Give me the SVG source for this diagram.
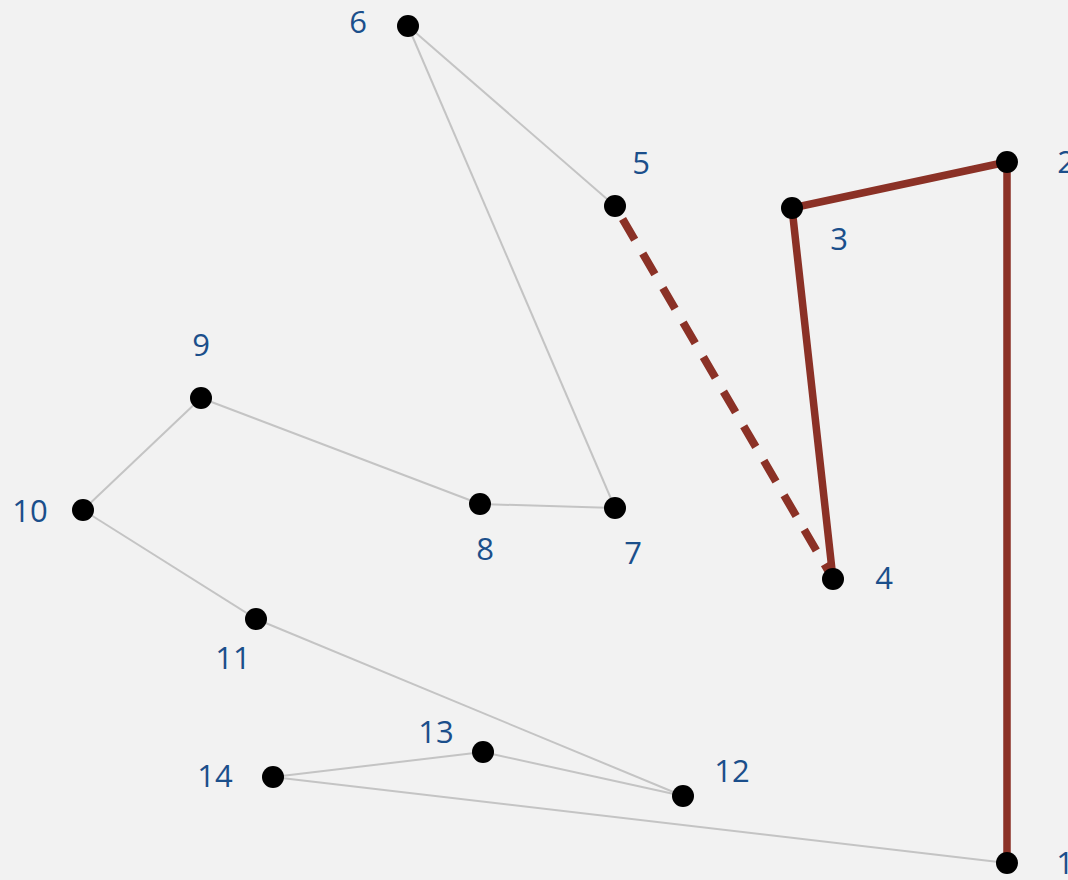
<svg xmlns="http://www.w3.org/2000/svg" width="1068" height="880" viewBox="0 0 1068 880">
<style>
.thin{stroke:#c4c4c4;stroke-width:2;fill:none}
.thick{stroke:#8b3126;stroke-width:7.5;fill:none;stroke-linecap:butt}
.dash{stroke:#8b3126;stroke-width:8;fill:none;stroke-dasharray:24 16;stroke-dashoffset:-15}
.dot{fill:#000}
.lbl{font-family:"Open Sans","Noto Sans",sans-serif;font-size:31px;fill:#1b4f8b;text-anchor:middle;dominant-baseline:central}
</style>
<rect width="1068" height="880" fill="#f2f2f2"/>
<g id="connectors">
<line class="thin" x1="1007" y1="863" x2="273" y2="777"/>
<line class="thin" x1="273" y1="777" x2="483" y2="752"/>
<line class="thin" x1="483" y1="752" x2="683" y2="796"/>
<line class="thin" x1="683" y1="796" x2="256" y2="619"/>
<line class="thin" x1="256" y1="619" x2="83" y2="510"/>
<line class="thin" x1="83" y1="510" x2="201" y2="398"/>
<line class="thin" x1="201" y1="398" x2="480" y2="504"/>
<line class="thin" x1="480" y1="504" x2="615" y2="508"/>
<line class="thin" x1="615" y1="508" x2="408" y2="26"/>
<line class="thin" x1="408" y1="26" x2="615" y2="206"/>
<line class="dash" x1="615" y1="206" x2="833" y2="579"/>
<polyline class="thick" points="1007,863 1007,162 792,208 833,579"/>
</g>
<g id="n1"><circle class="dot" cx="1007" cy="863" r="11"/><text class="lbl" x="1065" y="862">1</text></g>
<g id="n2"><circle class="dot" cx="1007" cy="162" r="11"/><text class="lbl" x="1066" y="161">2</text></g>
<g id="n3"><circle class="dot" cx="792" cy="208" r="11"/><text class="lbl" x="839" y="238">3</text></g>
<g id="n4"><circle class="dot" cx="833" cy="579" r="11"/><text class="lbl" x="884" y="577">4</text></g>
<g id="n5"><circle class="dot" cx="615" cy="206" r="11"/><text class="lbl" x="641" y="162">5</text></g>
<g id="n6"><circle class="dot" cx="408" cy="26" r="11"/><text class="lbl" x="358" y="21">6</text></g>
<g id="n7"><circle class="dot" cx="615" cy="508" r="11"/><text class="lbl" x="633" y="552">7</text></g>
<g id="n8"><circle class="dot" cx="480" cy="504" r="11"/><text class="lbl" x="485" y="548">8</text></g>
<g id="n9"><circle class="dot" cx="201" cy="398" r="11"/><text class="lbl" x="201" y="344">9</text></g>
<g id="n10"><circle class="dot" cx="83" cy="510" r="11"/><text class="lbl" x="30" y="510">10</text></g>
<g id="n11"><circle class="dot" cx="256" cy="619" r="11"/><text class="lbl" x="233" y="657">11</text></g>
<g id="n12"><circle class="dot" cx="683" cy="796" r="11"/><text class="lbl" x="732" y="770">12</text></g>
<g id="n13"><circle class="dot" cx="483" cy="752" r="11"/><text class="lbl" x="436" y="731">13</text></g>
<g id="n14"><circle class="dot" cx="273" cy="777" r="11"/><text class="lbl" x="215" y="775">14</text></g>
</svg>
